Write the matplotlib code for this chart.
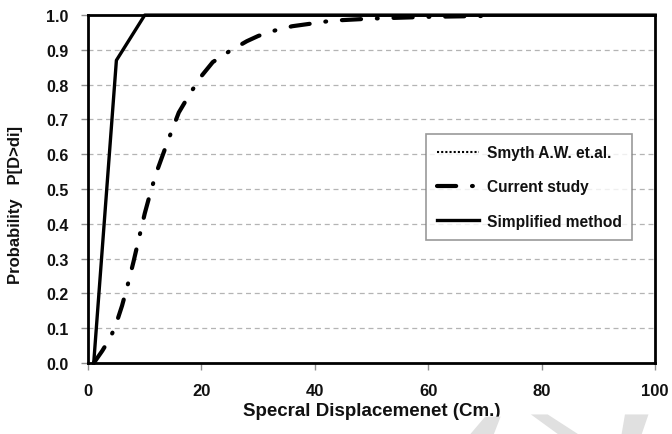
import matplotlib
matplotlib.use("Agg")
import matplotlib.pyplot as plt
from matplotlib.patches import Polygon

# Fragility curves: probability of exceeding a spectral displacement
simplified_x = [1, 5, 10, 100]
simplified_y = [0.0, 0.87, 1.0, 1.0]

current_x = [1, 2.5, 4, 5, 6, 7, 8, 9, 10, 11, 12, 14, 16, 18, 20, 22, 25, 28,
             30, 33, 36, 40, 43, 50, 60, 72]
current_y = [0.0, 0.035, 0.075, 0.115, 0.165, 0.225, 0.29, 0.36, 0.43, 0.49,
             0.545, 0.635, 0.72, 0.775, 0.825, 0.865, 0.897, 0.925, 0.94,
             0.956, 0.968, 0.977, 0.984, 0.99, 0.995, 0.998]

smyth_x = []
smyth_y = []

x_ticks = [0, 20, 40, 60, 80, 100]
y_ticks = [0.0, 0.1, 0.2, 0.3, 0.4, 0.5, 0.6, 0.7, 0.8, 0.9, 1.0]

plt.rcParams['font.family'] = ['Liberation Sans', 'DejaVu Sans']
plt.rcParams['font.weight'] = 'bold'

fig = plt.figure(figsize=(6.72, 4.35), dpi=100)
ax = fig.add_axes([0.131, 0.163, 0.844, 0.800])

ax.set_xlim(0, 100)
ax.set_ylim(0, 1.0)

for yv in y_ticks[1:-1]:
    ax.axhline(yv, color='#b4b4b4', lw=0.9, ls=(0, (4, 3)), zorder=1)

ax.plot(smyth_x, smyth_y, color='black', lw=1.5, ls=(0, (1, 1)),
        label='Smyth A.W. et.al.', zorder=3)
ax.plot(current_x, current_y, color='black', lw=3.0,
        ls=(0, (4.6, 3.8, 0.2, 3.8)), dash_capstyle='round',
        label='Current study', zorder=3)
ax.plot(simplified_x, simplified_y, color='black', lw=2.4,
        label='Simplified method', zorder=4, clip_on=False)

for side in ['left', 'bottom', 'right', 'top']:
    ax.spines[side].set_linewidth(2.0)
    ax.spines[side].set_color('black')

ax.set_xticks(x_ticks)
ax.set_yticks(y_ticks)
ax.set_yticklabels([f"{v:.1f}" for v in y_ticks])
ax.tick_params(axis='both', direction='out', length=5, width=1,
               color='#909090')
ax.tick_params(axis='x', labelsize=12, pad=9)
ax.tick_params(axis='y', labelsize=11.5, pad=9)
for lbl in ax.get_xticklabels() + ax.get_yticklabels():
    lbl.set_fontweight('bold')
    lbl.set_color('#111111')

ax.set_xlabel('Specral Displacemenet (Cm.)', fontsize=13.5,
              fontweight='bold', labelpad=3, color='#111111')
ax.set_ylabel('Probability   P[D>di]', fontsize=12, fontweight='bold',
              color='#111111')
ax.yaxis.set_label_coords(-0.115, 0.457)

leg = ax.legend(loc='upper left', bbox_to_anchor=(0.596, 0.658),
                frameon=True, fancybox=False, fontsize=11.2,
                handlelength=2.7, handletextpad=0.5, labelspacing=1.25,
                borderpad=0.7, borderaxespad=0)
leg.get_frame().set_edgecolor('#808080')
leg.get_frame().set_linewidth(1.2)
for t in leg.get_texts():
    t.set_fontweight('bold')
    t.set_color('#111111')

# faint page stamp along the lower edge
stamp = [
    [(0.700, 0.000), (0.735, 0.000), (0.745, 0.040), (0.722, 0.040)],
    [(0.790, 0.045), (0.815, 0.045), (0.860, 0.000), (0.830, 0.000)],
    [(0.930, 0.045), (0.965, 0.045), (0.955, 0.000), (0.925, 0.000)],
]
for pts in stamp:
    fig.patches.append(Polygon(pts, closed=True, transform=fig.transFigure,
                               facecolor='#e0e0e0', edgecolor='none',
                               zorder=0))

fig.savefig('out.png', dpi=100, facecolor='white')
